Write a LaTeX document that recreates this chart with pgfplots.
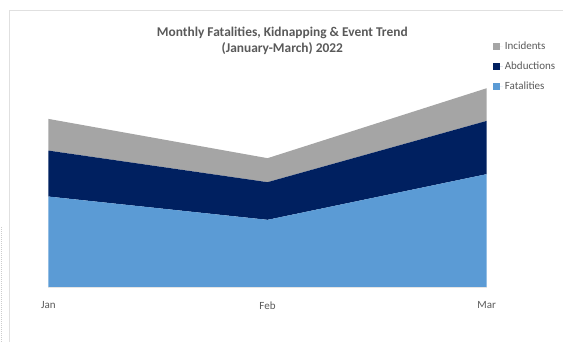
\documentclass[border=0pt]{standalone}
\usepackage{pgfplots}
\pgfplotsset{compat=1.18}
\usepackage{fontspec}
\setmainfont{Carlito}
\definecolor{fat}{HTML}{5B9BD5}
\definecolor{abd}{HTML}{002060}
\definecolor{inc}{HTML}{A5A5A5}
\definecolor{txt}{HTML}{595959}
\begin{document}
\begin{tikzpicture}[x=1pt,y=1pt]
\path (0,0) rectangle (563,342);
\draw[black!12, line width=0.8pt] (9.7,0) -- (9.7,331.7) -- (563,331.7);
\draw[black!20, dash pattern=on 1pt off 1pt, line width=0.6pt] (1,0) -- (1,115);
\begin{axis}[
  scale only axis, width=438.5pt, height=200pt,
  at={(48.5pt,55pt)}, anchor=south west,
  xmin=0, xmax=2, ymin=0, ymax=200,
  stack plots=y,
  axis line style={draw=none},
  ytick=\empty,
  xtick={0,1,2}, xticklabels={Jan,Feb,Mar},
  major tick length=0pt,
  xticklabel style={font=\fontsize{11}{12}\selectfont, text=txt, yshift=-11.5pt},
  clip=false,
  legend cell align=left,
  reverse legend,
  legend style={draw=none, fill=none, at={(1.0137,1.238)}, anchor=north west,
    font=\fontsize{11}{13}\selectfont, text=txt, row sep=7pt,
    inner sep=0pt, nodes={inner sep=2pt}},
  legend image code/.code={\fill[#1] (0pt,-3.5pt) rectangle (7pt,3.5pt); \path (0pt,0pt) -- (10pt,0pt);},
]
\addplot[draw=none, fill=fat] coordinates {(0,90.3) (1,67) (2,112.7)} \closedcycle;
\addlegendentry{Fatalities}
\addplot[draw=none, fill=abd] coordinates {(0,46) (1,37.7) (2,53.3)} \closedcycle;
\addlegendentry{Abductions}
\addplot[draw=none, fill=inc] coordinates {(0,31.7) (1,24) (2,32.7)} \closedcycle;
\addlegendentry{Incidents}
\draw[black!10] (axis cs:0,0) -- (axis cs:2,0);
\end{axis}
\node[align=center, text=txt, font=\bfseries\fontsize{13.4}{16.3}\selectfont] at (282.5,301) {Monthly Fatalities, Kidnapping \& Event Trend\\(January-March) 2022};
\end{tikzpicture}
\end{document}
